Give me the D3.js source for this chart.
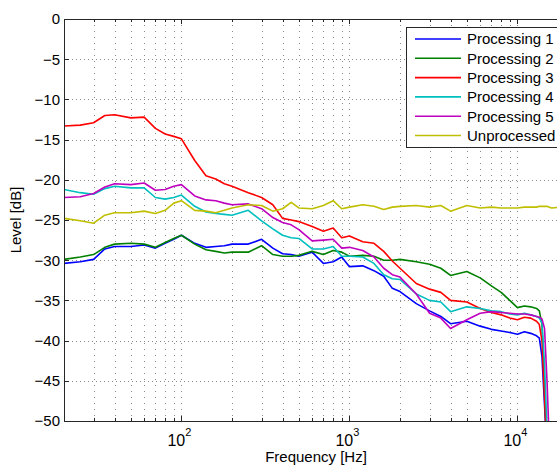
<!DOCTYPE html>
<html>
<head>
<meta charset="utf-8">
<script src="https://cdn.jsdelivr.net/npm/d3@7"></script>
<style>
  body { margin: 0; background: #fff; }
  svg { display: block; font-family: "Liberation Sans", Arial, sans-serif; }
</style>
</head>
<body>
<svg width="557" height="466"></svg>
<script>
// frequencies (Hz) the levels were read at
const freq = [20, 25, 30, 35, 40, 50, 60, 70, 80, 90,
  100, 120, 140, 160, 180, 200, 250, 300, 350, 400,
  450, 500, 600, 700, 800, 900, 1000, 1200, 1400, 1600,
  1800, 2000, 2500, 3000, 3500, 4000, 5000, 6000, 7000, 8000,
  9000, 10000, 11000, 12000, 13000, 13500, 14000, 14500, 15000, 15500,
  16000, 18000, 20000];

// levels in dB, one array per curve
const proc1 = [-30.4, -30.2, -29.9, -28.6, -28.3, -28.3, -28.1, -28.5, -27.9, -27.4,
  -26.9, -27.9, -28.4, -28.3, -28.2, -28.0, -28.0, -27.4, -28.5, -29.2,
  -29.3, -29.5, -29.0, -30.4, -30.2, -29.6, -30.8, -30.7, -31.3, -32.0,
  -33.5, -33.9, -35.4, -36.3, -37.0, -37.9, -37.6, -38.2, -38.6, -38.8,
  -39.0, -39.2, -38.9, -39.1, -39.4, -39.7, -42, -48, -54, null,
  null, null, null];
const proc2 = [-29.9, -29.6, -29.3, -28.4, -28.0, -27.9, -28.0, -28.4, -27.8, -27.3,
  -26.9, -28.0, -28.7, -28.9, -29.1, -29.0, -29.0, -28.2, -29.3, -29.5,
  -29.5, -29.4, -28.9, -29.3, -28.8, -29.0, -29.5, -29.4, -29.5, -30.0,
  -30.0, -29.9, -30.2, -30.5, -31.0, -31.9, -31.4, -32.2, -33.2, -34.0,
  -35.0, -35.9, -35.7, -35.8, -36.0, -36.3, -38, -46, -54, null,
  null, null, null];
const proc3 = [-13.3, -13.2, -12.9, -12.0, -11.9, -12.3, -12.2, -13.6, -14.3, -14.6,
  -14.9, -17.6, -19.5, -19.9, -20.5, -20.8, -21.6, -22.2, -23.1, -24.8,
  -25.0, -25.2, -25.8, -26.4, -26.0, -27.2, -27.0, -27.7, -27.9, -28.9,
  -30.1, -31.0, -32.9, -33.6, -34.0, -35.0, -35.2, -36.0, -36.5, -36.8,
  -37.2, -37.4, -37.1, -37.2, -37.6, -38.0, -40, -47, -54, null,
  null, null, null];
const proc4 = [-21.2, -21.6, -21.8, -21.1, -20.8, -21.0, -21.0, -22.2, -22.4, -22.2,
  -21.9, -23.3, -24.0, -24.2, -24.3, -24.4, -23.8, -25.1, -26.1, -26.9,
  -27.2, -27.3, -28.6, -28.6, -28.3, -29.5, -29.5, -29.6, -30.4, -31.8,
  -32.3, -32.4, -34.2, -35.0, -35.2, -36.4, -35.8, -36.0, -36.3, -36.4,
  -36.7, -36.8, -36.6, -36.8, -37.0, -37.2, -37.8, -43, -51, -56,
  null, null, null];
const proc5 = [-22.2, -22.1, -21.7, -20.9, -20.5, -20.6, -20.4, -21.3, -21.2, -20.8,
  -20.6, -22.0, -22.5, -22.6, -22.9, -23.1, -23.0, -23.6, -24.7, -25.3,
  -25.6, -26.2, -27.6, -27.5, -27.4, -28.5, -28.4, -28.8, -29.6, -31.0,
  -31.8, -32.1, -34.2, -36.6, -37.2, -38.5, -37.4, -36.6, -36.4, -36.5,
  -36.6, -36.7, -36.7, -36.8, -37.0, -37.1, -37.3, -38.5, -45, -53,
  null, null, null];
const unproc = [-24.8, -25.1, -25.4, -24.4, -24.1, -24.1, -23.9, -24.2, -23.8, -22.9,
  -22.6, -23.8, -23.9, -24.1, -23.8, -23.5, -23.1, -23.2, -23.9, -23.6,
  -22.8, -23.5, -23.6, -23.2, -22.6, -23.6, -23.4, -23.1, -23.3, -23.7,
  -23.4, -23.3, -23.2, -23.4, -23.2, -23.9, -23.2, -23.5, -23.4, -23.5,
  -23.5, -23.5, -23.4, -23.4, -23.4, -23.3, -23.3, -23.3, -23.3, -23.4,
  -23.5, -23.4, -23.5];

const names = ["Processing 1", "Processing 2", "Processing 3", "Processing 4", "Processing 5", "Unprocessed"];
const colors = ["#0000ff", "#008000", "#ff0000", "#00bfbf", "#bf00bf", "#bfbf00"];
const series = [proc1, proc2, proc3, proc4, proc5, unproc];

const yTicks = [0, -5, -10, -15, -20, -25, -30, -35, -40, -45, -50];
const xMajor = [100, 1000, 10000];
const xMinor = [20, 30, 40, 50, 60, 70, 80, 90, 200, 300, 400, 500, 600, 700, 800, 900,
  2000, 3000, 4000, 5000, 6000, 7000, 8000, 9000];

let svg = d3.select("svg"),
    pLeft = 64, pRight = 568, pTop = 19, pBottom = 421;

const x = d3.scaleLog().domain([20, 20000]).range([pLeft, pRight]);
const y = d3.scaleLinear().domain([-50, 0]).range([pBottom, pTop]);

svg.append("defs").append("clipPath").attr("id", "plot")
  .append("rect").attr("x", pLeft).attr("y", pTop)
  .attr("width", pRight - pLeft).attr("height", pBottom - pTop);

// grid, dotted
const grid = svg.append("g")
  .attr("stroke", "#8a8a8a").attr("stroke-width", 1)
  .attr("stroke-dasharray", "1,5");

grid.selectAll(".gx")
  .data(xMajor.concat(xMinor))
  .enter().append("line")
    .attr("x1", d => Math.round(x(d)) + 0.5).attr("x2", d => Math.round(x(d)) + 0.5)
    .attr("y1", pTop).attr("y2", pBottom);

grid.selectAll(".gy")
  .data(yTicks.slice(1, -1))
  .enter().append("line")
    .attr("y1", d => Math.round(y(d)) + 0.5).attr("y2", d => Math.round(y(d)) + 0.5)
    .attr("x1", pLeft).attr("x2", pRight)
    .attr("stroke-dasharray", "1,3");

// curves
const line_gen = d3.line()
  .defined(d => d.v != null)
  .x(d => x(d.f))
  .y(d => y(d.v));

svg.append("g").attr("clip-path", "url(#plot)")
  .selectAll("path")
  .data(series)
  .enter().append("path")
    .attr("fill", "none")
    .attr("stroke", (d, i) => colors[i])
    .attr("stroke-width", 1.6)
    .attr("stroke-linejoin", "round")
    .attr("d", d => line_gen(d.map((v, i) => ({f: freq[i], v: v}))));

// axes box + inward ticks
const ax = svg.append("g").attr("stroke", "#262626").attr("stroke-width", 1);
ax.append("rect")
  .attr("x", pLeft + 0.5).attr("y", pTop + 0.5)
  .attr("width", pRight - pLeft).attr("height", pBottom - pTop)
  .attr("fill", "none");

yTicks.forEach(t => {
  const yy = Math.round(y(t)) + 0.5;
  ax.append("line").attr("x1", pLeft).attr("x2", pLeft + 5).attr("y1", yy).attr("y2", yy);
});
xMajor.forEach(t => {
  const xx = Math.round(x(t)) + 0.5;
  ax.append("line").attr("x1", xx).attr("x2", xx).attr("y1", pBottom).attr("y2", pBottom - 5);
  ax.append("line").attr("x1", xx).attr("x2", xx).attr("y1", pTop).attr("y2", pTop + 5);
});
xMinor.forEach(t => {
  const xx = Math.round(x(t)) + 0.5;
  ax.append("line").attr("x1", xx).attr("x2", xx).attr("y1", pBottom).attr("y2", pBottom - 3);
  ax.append("line").attr("x1", xx).attr("x2", xx).attr("y1", pTop).attr("y2", pTop + 3);
});

// tick labels
svg.append("g").selectAll("text")
  .data(yTicks)
  .enter().append("text")
    .attr("x", 60).attr("y", d => y(d))
    .attr("dy", "0.36em")
    .attr("text-anchor", "end")
    .attr("font-size", 15)
    .attr("fill", "#000")
    .text(d => d < 0 ? "\u2212" + (-d) : d);

const xl = svg.append("g").selectAll("text")
  .data(xMajor)
  .enter().append("text")
    .attr("x", d => x(d) - 2).attr("y", 446)
    .attr("text-anchor", "middle")
    .attr("font-size", 16)
    .attr("fill", "#000");
xl.append("tspan").text("10");
xl.append("tspan")
  .attr("font-size", 11).attr("dy", -10)
  .text(d => Math.round(Math.log10(d)));

svg.append("text")
  .attr("x", (pLeft + pRight) / 2).attr("y", 462)
  .attr("text-anchor", "middle")
  .attr("font-size", 15)
  .text("Frequency [Hz]");

svg.append("text")
  .attr("transform", "translate(21," + (pTop + pBottom) / 2 + ") rotate(-90)")
  .attr("text-anchor", "middle")
  .attr("font-size", 15)
  .text("Level [dB]");

// legend
const lg = svg.append("g");
lg.append("rect")
  .attr("x", 406.5).attr("y", 27.5)
  .attr("width", 170).attr("height", 120)
  .attr("fill", "#fff").attr("stroke", "#262626");

names.forEach((n, i) => {
  const yy = 39 + i * 19.3;
  lg.append("line")
    .attr("x1", 415).attr("x2", 461).attr("y1", yy).attr("y2", yy)
    .attr("stroke", colors[i]).attr("stroke-width", 1.6);
  lg.append("text")
    .attr("x", 467).attr("y", yy).attr("dy", "0.36em")
    .attr("font-size", 15)
    .text(n);
});
</script>
</body>
</html>
